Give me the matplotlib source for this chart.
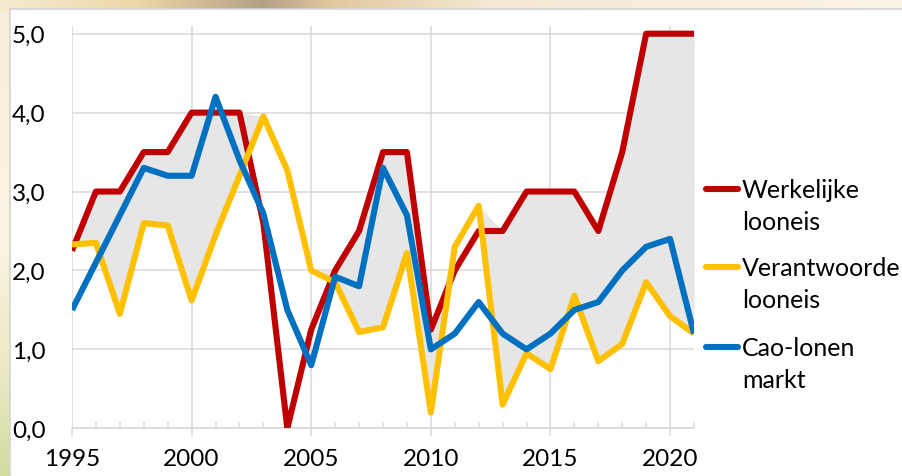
import numpy as np
import matplotlib
matplotlib.use("Agg")
import matplotlib.pyplot as plt
from matplotlib.colors import LinearSegmentedColormap
from matplotlib.lines import Line2D
from matplotlib.patches import Rectangle
from matplotlib.ticker import FuncFormatter, MultipleLocator


# ── Data ─────────────────────────────────────────────────────────────────

years = list(range(1995, 2022))

werkelijke = [2.25, 3.0, 3.0, 3.5, 3.5, 4.0, 4.0, 4.0, 2.6, 0.0,
              1.25, 2.0, 2.5, 3.5, 3.5, 1.25, 2.0, 2.5, 2.5, 3.0,
              3.0, 3.0, 2.5, 3.5, 5.0, 5.0, 5.0]

verantwoorde = [2.33, 2.35, 1.45, 2.6, 2.57, 1.62, 2.45, 3.2, 3.95, 3.27,
                2.0, 1.85, 1.22, 1.28, 2.22, 0.2, 2.3, 2.82, 0.3, 0.95,
                0.75, 1.68, 0.85, 1.07, 1.85, 1.42, 1.2]

cao_lonen = [1.5, 2.1, 2.7, 3.3, 3.2, 3.2, 4.2, 3.4, 2.72, 1.5,
             0.8, 1.92, 1.8, 3.3, 2.7, 1.0, 1.2, 1.6, 1.2, 1.0,
             1.2, 1.5, 1.6, 2.0, 2.3, 2.4, 1.2]

series_labels = ["Werkelijke\nlooneis", "Verantwoorde\nlooneis", "Cao-lonen\nmarkt"]
x_ticks = [1995, 2000, 2005, 2010, 2015, 2020]

RED = "#c00000"
YELLOW = "#ffc000"
BLUE = "#0070c0"
GRID = "#d9d9d9"

plt.rcParams["font.family"] = ["Lato", "DejaVu Sans"]

fig = plt.figure(figsize=(9.03, 4.77), dpi=100)
fig.patch.set_facecolor("white")
W, H = 903, 477

# ── Slide background strips (top and left) ───────────────────────────────
top_cmap = LinearSegmentedColormap.from_list(
    "top", [(0.0, "#f6ead0"), (0.15, "#ecd8a8"), (0.29, "#b4a184"),
            (0.37, "#e2c9a0"), (0.55, "#f6ead4"), (1.0, "#fbf3e3")])
left_cmap = LinearSegmentedColormap.from_list(
    "left", [(0.0, "#f8eed9"), (0.5, "#fbf3e2"), (0.8, "#e8e8c0"), (1.0, "#d3dba0")])

bg_top = fig.add_axes([0, 1 - 12 / H, 1, 12 / H])
bg_top.imshow(np.linspace(0, 1, 256)[None, :], aspect="auto", cmap=top_cmap)
bg_top.axis("off")
bg_left = fig.add_axes([0, 0, 11 / W, 1 - 12 / H])
bg_left.imshow(np.linspace(0, 1, 256)[:, None], aspect="auto", cmap=left_cmap)
bg_left.axis("off")
fig.add_artist(Rectangle((10 / W, -0.01), 1.0, 1 - 10 / H + 0.01,
                         transform=fig.transFigure, facecolor="white",
                         edgecolor="#d4d4d4", linewidth=1.2, zorder=1))

# ── Main axes ────────────────────────────────────────────────────────────
ax = fig.add_axes([72 / W, 47.7 / H, 622 / W, 0.8438])
ax.set_zorder(2)
ax.patch.set_alpha(0)

red = np.array(werkelijke)
yel = np.array(verantwoorde)
ax.fill_between(years, yel, np.maximum(red, yel), color="#e6e6e6", linewidth=0, zorder=1)

for values, color in [(werkelijke, RED), (verantwoorde, YELLOW), (cao_lonen, BLUE)]:
    ax.plot(years, values, color=color, linewidth=4.4,
            solid_joinstyle="round", solid_capstyle="butt", zorder=3)

ax.set_xlim(1995, 2021)
ax.set_ylim(0, 5.1)
ax.set_xticks(x_ticks)
ax.xaxis.set_minor_locator(MultipleLocator(1))
ax.set_yticks([0, 1, 2, 3, 4, 5])
ax.yaxis.set_major_formatter(FuncFormatter(lambda v, p: f"{v:.1f}".replace(".", ",")))

ax.grid(True, color=GRID, linewidth=1.1, zorder=0)
ax.set_axisbelow(True)
for side in ["top", "right", "left"]:
    ax.spines[side].set_visible(False)
ax.spines["bottom"].set_color(GRID)
ax.spines["bottom"].set_linewidth(1.1)
ax.spines["bottom"].set_zorder(0.5)

ax.tick_params(axis="x", which="major", direction="out", length=5.5, width=1.1,
               color=GRID, labelsize=17.5, pad=9)
ax.tick_params(axis="x", which="minor", direction="in", length=4.5, width=1.1, color=GRID)
ax.tick_params(axis="y", length=0, labelsize=17.5, pad=19)

# ── Legend (manual, handle beside first line of each label) ─────────────
legend_rows = [(series_labels[0], RED, 190), (series_labels[1], YELLOW, 268),
               (series_labels[2], BLUE, 348)]
for label, color, ypix in legend_rows:
    yf = 1 - ypix / H
    fig.add_artist(Line2D([706 / W, 738 / W], [yf, yf], transform=fig.transFigure,
                          color=color, linewidth=4.4, solid_capstyle="round", zorder=3))
    for i, line in enumerate(label.split("\n")):
        fig.text(742 / W, 1 - (ypix + 1 + 32 * i) / H, line, fontsize=18,
                 va="center", ha="left", zorder=3)

fig.savefig("out.png", dpi=100)
